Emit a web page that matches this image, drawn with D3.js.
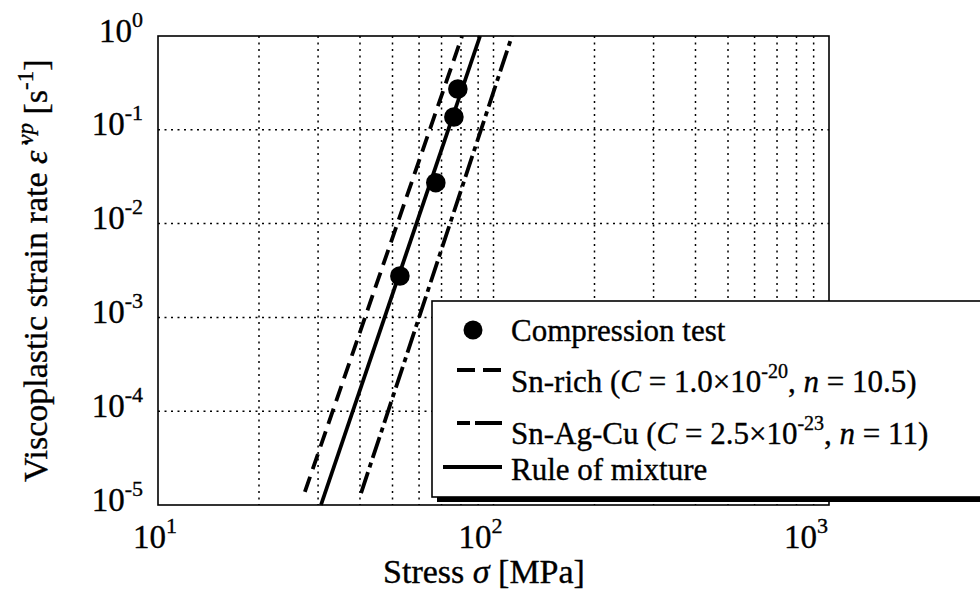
<!DOCTYPE html>
<html>
<head>
<meta charset="utf-8">
<script src="https://cdn.jsdelivr.net/npm/d3@7"></script>
<style>
  body { margin: 0; background: #fff; }
  svg { display: block; font-family: "Liberation Serif", "Times New Roman", serif; }
  svg text { stroke: #000; stroke-width: 0.35; }
</style>
</head>
<body>
<svg width="980" height="594"></svg>
<script>
// compression test points (stress MPa, strain rate 1/s)
var testStress = [52.6, 67.3, 76.2, 78.3];
var testRate = [0.00276, 0.0273, 0.137, 0.272];

// fitted lines, end points
var snRichStress = [27.4, 80.6];
var snRichRate = [1.38e-5, 1];
var sacStress = [40.3, 113.5];
var sacRate = [1.34e-5, 1];
var ruleStress = [30.6, 91.2];
var ruleRate = [1e-5, 1];

var xTickValues = [10, 100, 1000];
var xTickExp = ["1", "2", "3"];
var yTickValues = [1, 1e-1, 1e-2, 1e-3, 1e-4, 1e-5];
var yTickExp = ["0", "-1", "-2", "-3", "-4", "-5"];

var legendLabels = ["Compression test", "Sn-rich", "Sn-Ag-Cu", "Rule of mixture"];

var svg = d3.select("svg"),
    margin = {top: 36, right: 151, bottom: 89, left: 158},
    width = +svg.attr("width") - margin.left - margin.right,
    height = +svg.attr("height") - margin.top - margin.bottom;

var x = d3.scaleLog().domain([10, 1000]).range([margin.left, margin.left + width]);
var y = d3.scaleLog().domain([1e-5, 1]).range([margin.top + height, margin.top]);

// dotted grid
var grid = svg.append("g").attr("stroke", "#000").attr("stroke-width", 1.5);
grid.selectAll(".vx")
  .data(x.ticks().filter(function(d) { return d > 10 && d < 1000; }))
  .enter().append("line")
    .attr("x1", function(d) { return x(d); })
    .attr("x2", function(d) { return x(d); })
    .attr("y1", y(1)).attr("y2", y(1e-5))
    .attr("stroke-dasharray", "2,4.5");
grid.selectAll(".hy")
  .data(yTickValues.filter(function(d) { return d < 1 && d > 1e-5; }))
  .enter().append("line")
    .attr("y1", function(d) { return y(d); })
    .attr("y2", function(d) { return y(d); })
    .attr("x1", x(10)).attr("x2", x(1000))
    .attr("stroke-dasharray", "2,4.5");

// curves
var line = d3.line()
    .x(function(d) { return x(d[0]); })
    .y(function(d) { return y(d[1]); });

var series = [
  {s: snRichStress, r: snRichRate, dash: "16,8"},
  {s: sacStress, r: sacRate, dash: "22,5,5,5"},
  {s: ruleStress, r: ruleRate, dash: null}
];
series.forEach(function(ser) {
  svg.append("path")
    .datum(d3.zip(ser.s, ser.r))
    .attr("d", line)
    .attr("fill", "none")
    .attr("stroke", "#000")
    .attr("stroke-width", 3.8)
    .attr("stroke-dasharray", ser.dash);
});

svg.selectAll(".pt")
  .data(d3.zip(testStress, testRate))
  .enter().append("circle")
    .attr("cx", function(d) { return x(d[0]); })
    .attr("cy", function(d) { return y(d[1]); })
    .attr("r", 9.8)
    .attr("fill", "#000");

// axes box
svg.append("rect")
  .attr("x", x(10)).attr("y", y(1))
  .attr("width", x(1000) - x(10)).attr("height", y(1e-5) - y(1))
  .attr("fill", "none").attr("stroke", "#000").attr("stroke-width", 1.6);

// tick labels as 10^n
var xt = svg.selectAll(".xt")
  .data(xTickValues)
  .enter().append("text")
    .attr("x", function(d, i) { return x(d) - 3 - 10 * i; })
    .attr("y", 548)
    .attr("text-anchor", "middle")
    .attr("font-size", 33);
xt.append("tspan").text("10");
xt.append("tspan").attr("font-size", 22).attr("dy", -15)
  .text(function(d, i) { return xTickExp[i]; });

var yt = svg.selectAll(".yt")
  .data(yTickValues)
  .enter().append("text")
    .attr("x", 143)
    .attr("y", function(d) { return y(d) + 5.5; })
    .attr("text-anchor", "end")
    .attr("font-size", 33);
yt.append("tspan").text("10");
yt.append("tspan").attr("font-size", 22).attr("dy", -15)
  .text(function(d, i) { return yTickExp[i]; });

// axis titles
var xl = svg.append("text")
  .attr("x", 484).attr("y", 583)
  .attr("text-anchor", "middle")
  .attr("font-size", 34);
xl.append("tspan").text("Stress ");
xl.append("tspan").attr("font-style", "italic").text("\u03c3");
xl.append("tspan").text(" [MPa]");

var yl = svg.append("text")
  .attr("transform", "translate(47,482) rotate(-90)")
  .attr("font-size", 34);
yl.append("tspan").text("Viscoplastic strain rate ");
yl.append("tspan").attr("font-style", "italic").text("\u03b5\u0307");
yl.append("tspan").attr("font-style", "italic").attr("font-size", 23).attr("dy", -14).text(" vp");
yl.append("tspan").attr("dy", 14).text(" [s");
yl.append("tspan").attr("font-size", 23).attr("dy", -14).text("-1");
yl.append("tspan").attr("dy", 14).text("]");

// legend
var lg = svg.append("g");
lg.append("rect").attr("x", 437).attr("y", 306).attr("width", 600).attr("height", 196).attr("fill", "#000");
lg.append("rect").attr("x", 432).attr("y", 301).attr("width", 600).attr("height", 196)
  .attr("fill", "#fff").attr("stroke", "#000").attr("stroke-width", 1.6);

lg.append("circle").attr("cx", 473).attr("cy", 330).attr("r", 9.5).attr("fill", "#000");
lg.append("line").attr("x1", 457).attr("x2", 502).attr("y1", 370).attr("y2", 370)
  .attr("stroke", "#000").attr("stroke-width", 3.8).attr("stroke-dasharray", "18,8");
lg.append("line").attr("x1", 457).attr("x2", 502).attr("y1", 423).attr("y2", 423)
  .attr("stroke", "#000").attr("stroke-width", 3.8).attr("stroke-dasharray", "13,5,40");
lg.append("line").attr("x1", 443).attr("x2", 502).attr("y1", 467).attr("y2", 467)
  .attr("stroke", "#000").attr("stroke-width", 3.8);

lg.append("text").attr("x", 511).attr("y", 341).attr("font-size", 31).text(legendLabels[0]);

var lt1 = lg.append("text").attr("x", 511).attr("y", 392).attr("font-size", 31);
lt1.append("tspan").text(legendLabels[1] + " (");
lt1.append("tspan").attr("font-style", "italic").text("C");
lt1.append("tspan").text(" = 1.0\u00d710");
lt1.append("tspan").attr("font-size", 20).attr("dy", -14).text("-20");
lt1.append("tspan").attr("dy", 14).text(", ");
lt1.append("tspan").attr("font-style", "italic").text("n");
lt1.append("tspan").text(" = 10.5)");

var lt2 = lg.append("text").attr("x", 511).attr("y", 444).attr("font-size", 31);
lt2.append("tspan").text(legendLabels[2] + " (");
lt2.append("tspan").attr("font-style", "italic").text("C");
lt2.append("tspan").text(" = 2.5\u00d710");
lt2.append("tspan").attr("font-size", 20).attr("dy", -14).text("-23");
lt2.append("tspan").attr("dy", 14).text(", ");
lt2.append("tspan").attr("font-style", "italic").text("n");
lt2.append("tspan").text(" = 11)");

lg.append("text").attr("x", 511).attr("y", 480).attr("font-size", 31).text(legendLabels[3]);
</script>
</body>
</html>
